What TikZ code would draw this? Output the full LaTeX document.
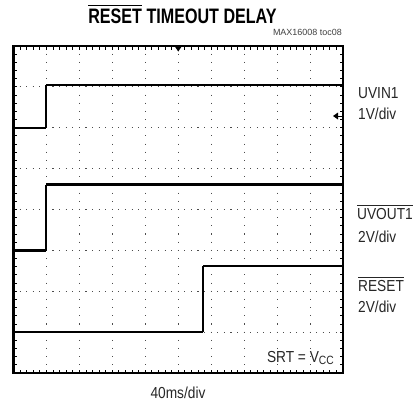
\documentclass[tikz,border=0pt]{standalone}
\usepackage{fontspec}
\setmainfont{Liberation Sans}
\newfontfamily\cond[FakeStretch=0.86]{Liberation Sans}
\newfontfamily\condtitle[FakeStretch=0.77]{Liberation Sans}
\newcommand\ovl[3]{\leavevmode\setbox0\hbox{#3}\rlap{\raisebox{\dimexpr\ht0+#2\relax}{\rule{\wd0}{#1}}}\box0\relax}
\begin{document}
\begin{tikzpicture}[x=1bp,y=-1bp,
  lbl/.style={font=\cond\fontsize{16}{18}\selectfont, text=black!85, inner sep=0pt},
  trace/.style={line width=2.1bp, black},
  stepline/.style={line width=1.1bp, black},
  tick/.style={line width=0.9bp, black},
  vdots/.style={line width=1.1bp, black!70, dash pattern=on 1.1bp off 7.075bp},
  hdots/.style={line width=1.1bp, black!70, dash pattern=on 1.1bp off 5.49bp}]
\useasboundingbox (0,0) rectangle (418,413);
% grid
\foreach \i in {1,...,9}
  \draw[vdots] ({13.5+32.95*\i},53.625) -- ({13.5+32.95*\i},372);
\foreach \j in {1,...,7}
  \draw[hdots] (19.54,{46+40.875*\j}) -- (342,{46+40.875*\j});
% edge ticks
\foreach \i in {1,...,49}{
  \draw[tick] ({13.5+6.59*\i},46) -- ++(0,3.5);
  \draw[tick] ({13.5+6.59*\i},373) -- ++(0,-3.5);}
\foreach \j in {1,...,39}{
  \draw[tick] (13.5,{46+8.175*\j}) -- ++(3.5,0);
  \draw[tick] (343,{46+8.175*\j}) -- ++(-3.5,0);}
% frame
\draw[line width=2.6bp] (13.5,46) rectangle (343,373);
% markers
\fill (174.5,46) -- (182,46) -- (178.25,51.5) -- cycle;
\fill (333,116) -- (338,112.5) -- (338,119.5) -- cycle;
\draw[line width=1bp] (338,116) -- (343,116);
% traces
\coordinate (a0) at (13.5,128); \coordinate (a1) at (46,128);
\coordinate (a2) at (46,85); \coordinate (a3) at (343,85);
\draw[trace] (a0) -- (a1); \draw[stepline] (a1) -- (a2); \draw[trace] (a2) -- (a3);
\coordinate (b0) at (13.5,250.5); \coordinate (b1) at (46,250.5);
\coordinate (b2) at (46,184.5); \coordinate (b3) at (343,184.5);
\draw[trace] (b0) -- (b1); \draw[stepline] (b1) -- (b2); \draw[trace] (b2) -- (b3);
\coordinate (c0) at (13.5,331.8); \coordinate (c1) at (203,331.8);
\coordinate (c2) at (203,266); \coordinate (c3) at (343,266);
\draw[trace] (c0) -- (c1); \draw[stepline] (c1) -- (c2); \draw[trace] (c2) -- (c3);
% texts
\node[font=\condtitle\bfseries\fontsize{21}{24}\selectfont, anchor=base, inner sep=0pt] (title) at (182.5,23) {\ovl{1.6pt}{2pt}{RESET} TIMEOUT DELAY};
\node[font=\fontsize{9}{10}\selectfont, text=black!75, anchor=base east, inner sep=0pt] (toc) at (342,35) {MAX16008 toc08};
\node[lbl, anchor=base west] (l1) at (358,98) {UVIN1};
\node[lbl, anchor=base west] (l1b) at (358,119) {1V/div};
\node[lbl, anchor=base west] (l2) at (357,219) {\ovl{0.8pt}{2.5pt}{UVOUT1}};
\node[lbl, anchor=base west] (l2b) at (358,242) {2V/div};
\node[lbl, anchor=base west] (l3) at (358,291) {\ovl{0.8pt}{2.5pt}{RESET}};
\node[lbl, anchor=base west] (l3b) at (358,312) {2V/div};
\node[lbl, anchor=base east] (srt) at (334,362) {SRT = V\raisebox{-0.25ex}{\fontsize{12}{13}\selectfont CC}};
\node[lbl, anchor=base] (tb) at (178,398) {40ms/div};
\end{tikzpicture}
\end{document}
